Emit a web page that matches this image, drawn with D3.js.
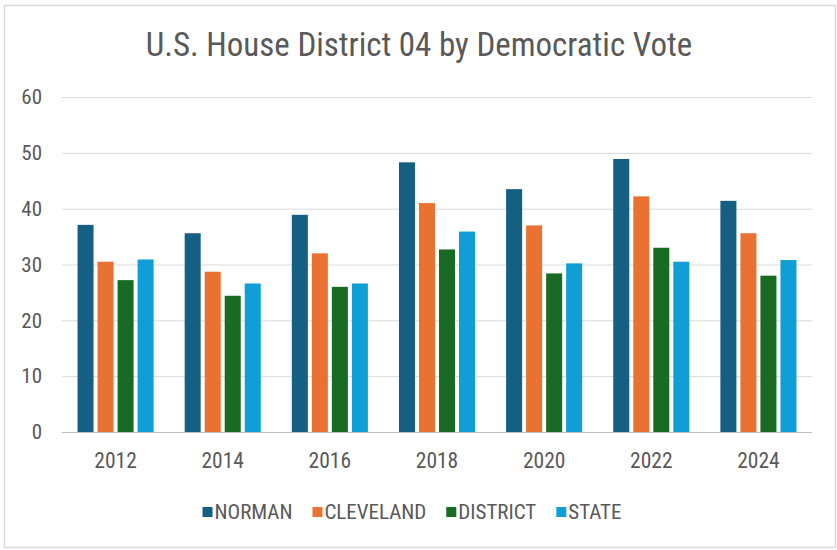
<!DOCTYPE html>
<html><head><meta charset="utf-8">
<script src="https://cdn.jsdelivr.net/npm/d3@7"></script>
<style>
html,body{margin:0;padding:0;background:#fff;}
svg{display:block;}
</style></head>
<body>
<script>
const years = ["2012","2014","2016","2018","2020","2022","2024"];
const seriesNames = ["NORMAN","CLEVELAND","DISTRICT","STATE"];
const norman    = [37.1, 35.6, 38.9, 48.3, 43.5, 48.9, 41.4];
const cleveland = [30.5, 28.7, 32.0, 41.0, 37.0, 42.2, 35.6];
const district  = [27.2, 24.4, 26.0, 32.7, 28.4, 33.0, 28.0];
const state     = [30.9, 26.6, 26.6, 35.9, 30.2, 30.5, 30.8];
const yTicks = [0,10,20,30,40,50,60];
const colors = ["#156082","#E97132","#196B24","#0F9ED5"];
const title = "U.S. House District 04 by Democratic Vote";

const seriesValues = [norman, cleveland, district, state];
const W = 837, H = 550;
const m = {left:62, right:25, top:97, bottom:118};
const svg = d3.select("body").append("svg").attr("width",W).attr("height",H);

svg.append("rect").attr("x",4.5).attr("y",5.5).attr("width",W-6).attr("height",H-8)
  .attr("fill","#fff").attr("stroke","#d9d9d9").attr("stroke-width",1.5);

const x0 = d3.scaleBand().domain(years).range([m.left, W-m.right]).paddingInner(0.29).paddingOuter(0.145);
const x1 = d3.scaleBand().domain(seriesNames).range([0, x0.bandwidth()]).paddingInner(0.2);
const y = d3.scaleLinear().domain([0,60]).range([H-m.bottom, m.top]);

const font = "'Liberation Sans Narrow','Roboto Condensed','Liberation Sans',Arial,sans-serif";
const txt = "#595959";

// gridlines
svg.append("g").selectAll("line").data(yTicks).join("line")
  .attr("x1",m.left).attr("x2",W-m.right)
  .attr("y1",d=>y(d)+0.5).attr("y2",d=>y(d)+0.5)
  .attr("stroke",d=>d===0?"#bfbfbf":"#d9d9d9").attr("stroke-width",1);

// y axis labels
const yAxis = d3.axisLeft(y).tickValues(yTicks).tickSize(0).tickPadding(20);
const ya = svg.append("g").attr("transform",`translate(${m.left},0)`).call(yAxis);
ya.select(".domain").remove();
ya.selectAll("text").attr("font-family",font).attr("font-size",21).attr("fill",txt);

// x axis labels
const xAxis = d3.axisBottom(x0).tickSize(0).tickPadding(21);
const xa = svg.append("g").attr("transform",`translate(0,${H-m.bottom})`).call(xAxis);
xa.select(".domain").remove();
xa.selectAll("text").attr("font-family",font).attr("font-size",21.5).attr("fill",txt);

// bars
const rows = years.map((yr,i)=>({yr, vals: seriesNames.map((s,j)=>({s, j, v: seriesValues[j][i]}))}));
svg.append("g").selectAll("g").data(rows).join("g")
  .attr("transform",d=>`translate(${x0(d.yr)},0)`)
  .selectAll("rect").data(d=>d.vals).join("rect")
  .attr("x",d=>x1(d.s)).attr("width",x1.bandwidth())
  .attr("y",d=>y(d.v)).attr("height",d=>y(0)-y(d.v))
  .attr("fill",d=>colors[d.j]);

// title
svg.append("text").attr("x",419).attr("y",56).attr("text-anchor","middle")
  .attr("font-family",font).attr("font-size",33).attr("fill",txt).text(title);

// legend
const lg = svg.append("g");
const gap = 20;
let cx = 0;
seriesNames.forEach((s,i)=>{
  const g = lg.append("g").attr("transform",`translate(${cx},0)`);
  g.append("rect").attr("x",0).attr("y",-4).attr("width",10).attr("height",10).attr("fill",colors[i]);
  const t = g.append("text").attr("x",12).attr("y",8).attr("font-family",font).attr("font-size",21)
    .attr("fill",txt).text(s);
  cx += 12 + t.node().getComputedTextLength() + gap;
});
const lw = cx - gap;
lg.attr("transform",`translate(${412 - lw/2},511)`);
</script>
</body></html>
